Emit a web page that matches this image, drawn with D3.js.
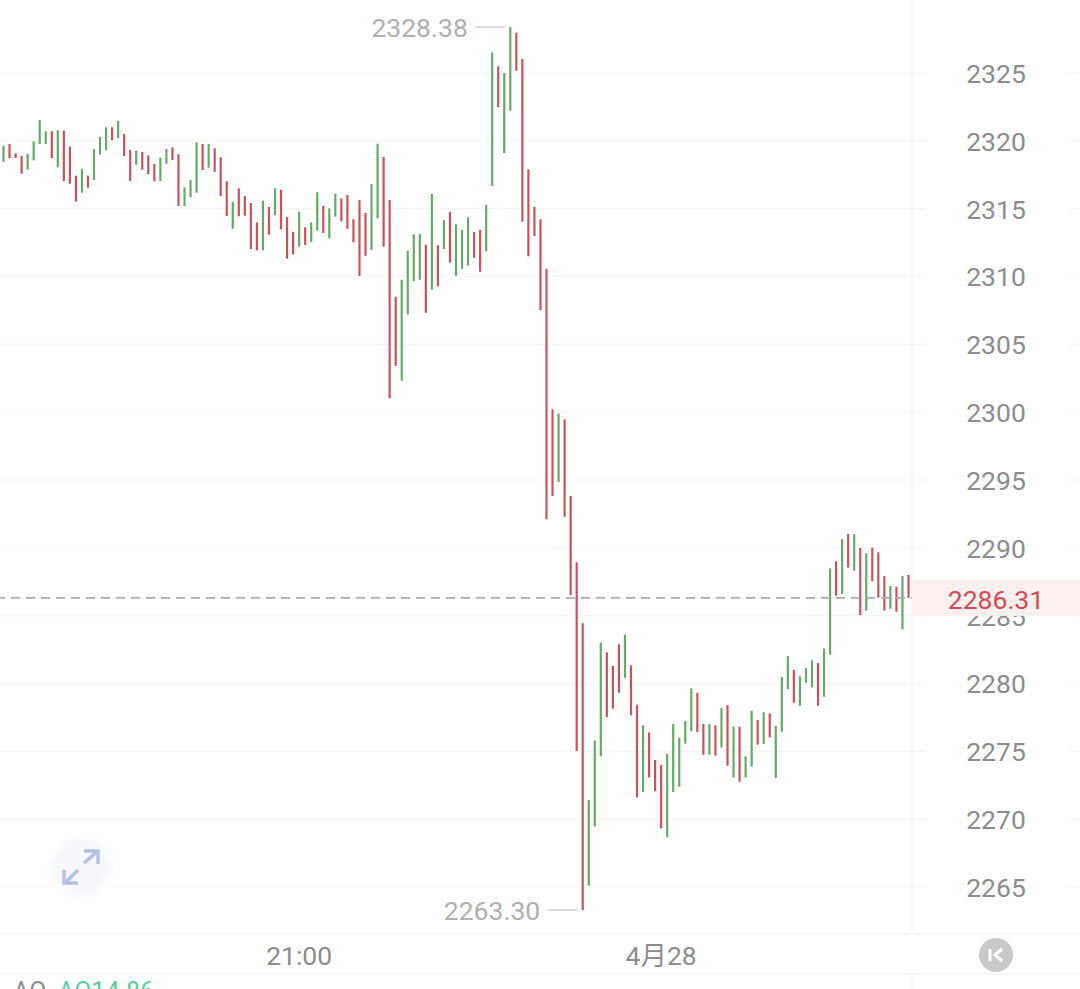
<!DOCTYPE html>
<html>
<head>
<meta charset="utf-8">
<script src="https://cdn.jsdelivr.net/npm/d3@7"></script>
<style>
html,body{margin:0;padding:0;background:#fff;overflow:hidden}
svg{display:block}
text{font-family:Roboto,"Noto Sans CJK SC",sans-serif}
</style>
</head>
<body>
<div id="chart"></div>
<script>
const highs = [
2319.64,2319.77,2319.08,2318.88,2319.03,2319.96,2321.53,2320.70,2320.70,2320.78,
2320.75,2319.57,2317.43,2317.92,2317.43,2319.40,2320.30,2321.00,2321.00,2321.46,
2320.50,2319.32,2319.27,2319.18,2318.93,2318.29,2318.76,2319.40,2319.52,2319.01,
2316.57,2317.13,2319.89,2319.77,2319.77,2319.45,2318.79,2317.02,2315.49,2316.50,
2315.95,2315.42,2313.99,2315.59,2315.12,2316.50,2316.40,2314.38,2313.30,2314.78,
2313.63,2313.99,2316.21,2315.20,2315.03,2316.10,2315.76,2316.01,2314.22,2315.64,
2314.68,2316.82,2319.79,2318.81,2315.64,2308.51,2309.76,2311.90,2313.11,2313.13,
2312.34,2316.08,2312.30,2314.16,2314.75,2313.85,2313.43,2314.36,2313.28,2313.43,
2315.27,2326.52,2325.49,2325.00,2328.38,2327.97,2326.03,2317.90,2315.14,2314.22,
2310.55,2300.21,2299.89,2299.47,2293.82,2288.93,2284.44,2271.41,2275.81,2283.01,
2282.30,2281.29,2282.89,2283.60,2281.34,2278.44,2276.92,2276.40,2274.36,2273.99,
2274.80,2277.01,2276.00,2277.24,2279.64,2279.30,2277.01,2277.01,2276.92,2278.19,
2278.41,2276.82,2276.82,2274.63,2277.99,2277.31,2277.88,2277.80,2276.87,2280.48,
2282.03,2280.99,2280.53,2281.14,2281.71,2281.51,2282.59,2288.49,2289.01,2290.63,
2291.02,2291.00,2289.99,2289.60,2290.01,2289.67,2287.92,2287.19,2287.13,2287.92,
2288.00];
const lows = [
2318.46,2318.71,2318.73,2317.58,2317.87,2318.56,2319.77,2319.77,2318.71,2318.05,
2317.04,2316.84,2315.51,2316.18,2316.54,2317.11,2318.98,2319.30,2320.04,2320.19,
2318.88,2317.04,2318.24,2317.87,2317.53,2317.02,2317.04,2318.31,2318.59,2315.20,
2315.20,2315.86,2316.18,2317.85,2318.02,2317.72,2315.93,2314.46,2313.52,2314.44,
2314.48,2312.03,2311.93,2311.93,2313.08,2314.51,2313.48,2311.31,2311.64,2312.20,
2312.32,2312.54,2313.38,2313.21,2312.82,2314.41,2314.07,2313.52,2312.52,2310.04,
2311.53,2311.95,2314.29,2312.20,2301.02,2303.42,2302.32,2307.21,2309.65,2309.76,
2307.33,2309.03,2309.28,2312.03,2311.02,2310.04,2310.57,2310.80,2311.38,2310.35,
2311.86,2316.67,2322.49,2319.10,2322.22,2325.17,2314.04,2311.49,2312.98,2307.51,
2292.10,2293.82,2294.85,2292.29,2286.52,2275.02,2263.30,2265.10,2269.47,2274.63,
2277.53,2278.14,2279.32,2280.43,2277.66,2271.61,2272.00,2273.08,2272.05,2269.33,
2268.66,2272.00,2272.39,2275.56,2276.48,2276.42,2274.75,2274.75,2274.68,2275.27,
2273.94,2273.08,2272.76,2273.06,2273.87,2275.49,2275.54,2276.03,2273.03,2276.45,
2279.59,2278.58,2278.36,2280.06,2279.72,2278.36,2279.03,2282.12,2286.47,2286.60,
2288.54,2288.31,2285.05,2285.37,2287.53,2286.32,2285.37,2285.51,2285.29,2283.99,
2286.31];
const directions = "GRRRGGGGRGRRRGRGGGRGRRGRRRGGRRGGGRGRRRGRRRRGRGRRRGRGGRGGRRRRRGGRRRGGGGRGRGRGGGRRGGRGGRRRRRRRGRRRRGGGRRRGRRGRRRGGGGGRRGRGRGRGGRGRGGGRGGGRGGRGRGRGRRRGRGR".split("");
const priceTicks = [2325,2320,2315,2310,2305,2300,2295,2290,2285,2280,2275,2270,2265];
const timeLabels = [{i:49,label:"21:00"},{i:109,label:"4月28"}];
const lastPrice = 2286.31;
const maxPrice = 2328.38, maxIndex = 84;
const minPrice = 2263.30, minIndex = 96;

const W = 1080, H = 989, plotRight = 912, axisTop = 934, axisBottom = 974;
const UP = "#63ab66", DOWN = "#cb515b", GRID = "#f5f5f6", LABEL = "#8c8c8c", EXT = "#b0b0b0", FS = 26.5;

const x = d3.scaleLinear().domain([0, 150]).range([3.5, 908.5]);
const y = d3.scaleLinear().domain([2265, 2325]).range([887, 73]);

const svg = d3.select("#chart").append("svg").attr("width", W).attr("height", H);
svg.append("rect").attr("width", W).attr("height", H).attr("fill", "#fff");
const defs = svg.append("defs");
const halo = defs.append("radialGradient").attr("id","halo");
halo.append("stop").attr("offset","0%").attr("stop-color","#f5f7fd");
halo.append("stop").attr("offset","65%").attr("stop-color","#f6f8fd");
halo.append("stop").attr("offset","100%").attr("stop-color","#ffffff");

// grid lines, broken behind the price labels
const grid = svg.append("g");
priceTicks.forEach(t => {
  grid.append("line").attr("x1",0).attr("x2",926).attr("y1",y(t)).attr("y2",y(t)).attr("stroke",GRID).attr("stroke-width",1.2);
  grid.append("line").attr("x1",1068).attr("x2",W).attr("y1",y(t)).attr("y2",y(t)).attr("stroke",GRID).attr("stroke-width",1.2);
});
grid.append("line").attr("x1",plotRight).attr("x2",plotRight).attr("y1",0).attr("y2",axisTop).attr("stroke",GRID).attr("stroke-width",1.6);
grid.append("line").attr("x1",plotRight).attr("x2",plotRight).attr("y1",axisBottom).attr("y2",H).attr("stroke",GRID).attr("stroke-width",1.6);
grid.append("line").attr("x1",0).attr("x2",W).attr("y1",axisTop).attr("y2",axisTop).attr("stroke",GRID).attr("stroke-width",1.6);
grid.append("line").attr("x1",0).attr("x2",W).attr("y1",axisBottom).attr("y2",axisBottom).attr("stroke",GRID).attr("stroke-width",1.6);

// bars
svg.append("g").selectAll("line").data(highs).join("line")
  .attr("x1",(d,i)=>x(i)).attr("x2",(d,i)=>x(i))
  .attr("y1",d=>y(d)).attr("y2",(d,i)=>y(lows[i]))
  .attr("stroke",(d,i)=>directions[i]==="G"?UP:DOWN)
  .attr("stroke-width",2.2);

// price axis
const yAxis = d3.axisRight(y).tickValues(priceTicks).tickSize(0).tickPadding(0).tickFormat(d3.format("d"));
const ga = svg.append("g").attr("transform","translate(996,1)").call(yAxis);
ga.select(".domain").remove();
ga.selectAll("text").attr("x",0).attr("text-anchor","middle").attr("font-size",FS).attr("fill",LABEL);

// last price
svg.append("line").attr("x1",0).attr("x2",plotRight).attr("y1",y(lastPrice)).attr("y2",y(lastPrice))
  .attr("stroke","#adadad").attr("stroke-width",1.8).attr("stroke-dasharray","9 6").attr("stroke-dashoffset",4);
svg.append("rect").attr("x",plotRight).attr("y",y(lastPrice)-18).attr("width",W-plotRight).attr("height",36).attr("fill","#fdf1f0");
svg.append("text").attr("x",996).attr("y",y(lastPrice)+11).attr("text-anchor","middle")
  .attr("font-size",FS).attr("fill","#d44a55").text(lastPrice.toFixed(2));

// extreme labels
[[maxIndex,maxPrice],[minIndex,minPrice]].forEach(([i,p])=>{
  const yy = y(p);
  svg.append("line").attr("x1",x(i)-35).attr("x2",x(i)-5).attr("y1",yy).attr("y2",yy).attr("stroke","#cfcfcf").attr("stroke-width",1.5);
  svg.append("text").attr("x",x(i)-42.5).attr("y",yy+10).attr("text-anchor","end").attr("font-size",FS).attr("fill",EXT).text(p.toFixed(2));
});

// time axis
svg.append("g").selectAll("text").data(timeLabels).join("text")
  .attr("x",d=>x(d.i)).attr("y",965).attr("text-anchor","middle")
  .attr("font-size",FS).attr("fill",LABEL).text(d=>d.label);

// expand button
const btn = svg.append("g").attr("transform","translate(81,867)");
btn.append("circle").attr("r",35).attr("fill","url(#halo)");
btn.append("path").attr("d","M-16 16L-3 3M-17 3V16H-3M3 -4L17 -16M3 -16H17V-3")
  .attr("fill","none").attr("stroke","#b2c1e8").attr("stroke-width",3.4);

// return button
const back = svg.append("g").attr("transform","translate(996,955)");
back.append("circle").attr("r",17).attr("fill","#c9c9c9");
back.append("path").attr("d","M-6 -6V6M6 -6L-1 0L6 6").attr("fill","none").attr("stroke","#fff").attr("stroke-width",3);

// cropped indicator text at bottom
svg.append("text").attr("x",13).attr("y",1000).attr("font-size",25).attr("fill","#8e8e8e").text("AO");
svg.append("text").attr("x",58).attr("y",1000).attr("font-size",25).attr("fill","#5ecba0").text("AO14.86");
</script>
</body>
</html>
